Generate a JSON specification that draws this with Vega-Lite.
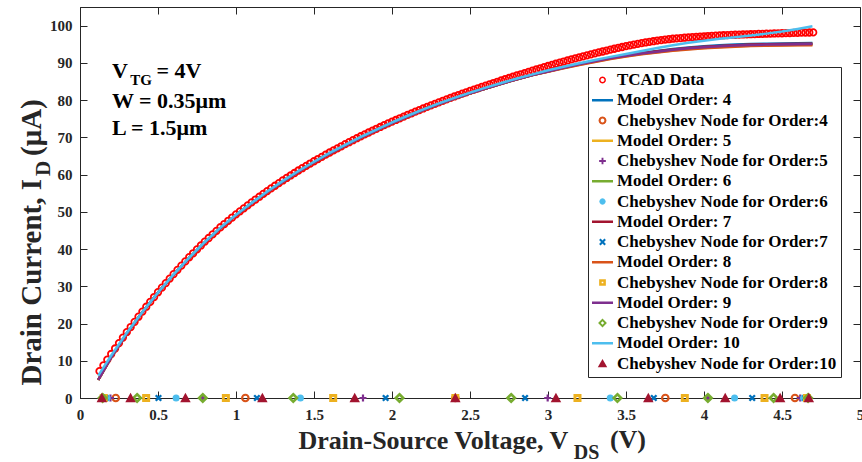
{
 "$schema": "https://vega.github.io/schema/vega-lite/v6.json",
 "width": 780, "height": 391,
 "autosize": {"type": "none"},
 "padding": {"left": 80, "top": 7, "right": 2, "bottom": 64},
 "background": "#FFFFFF",
 "config": {
  "view": {"stroke": "#262626", "strokeWidth": 1},
  "axis": {"labelFont": "Liberation Serif", "labelFontWeight": "bold", "labelFontSize": 15, "labelColor": "#262626", "titleFont": "Liberation Serif", "titleFontWeight": "bold", "titleFontSize": 26, "titleColor": "#262626", "tickColor": "#262626", "domainColor": "#262626", "grid": false, "tickSize": -7, "labelOverlap": false, "labelBound": false, "labelSeparation": 0}
 },
 "params": [
  {"name": "lshape", "expr": "({'TCAD Data': 'M0.33,0L0.286,0.165L0.165,0.286L0,0.33L-0.165,0.286L-0.286,0.165L-0.33,0L-0.286,-0.165L-0.165,-0.286L0,-0.33L0.165,-0.286L0.286,-0.165ZM0.19,0L0.165,-0.095L0.095,-0.165L0,-0.19L-0.095,-0.165L-0.165,-0.095L-0.19,0L-0.165,0.095L-0.095,0.165L0,0.19L0.095,0.165L0.165,0.095Z', 'Chebyshev Node for Order:4': 'M0.38,0L0.329,0.19L0.19,0.329L0,0.38L-0.19,0.329L-0.329,0.19L-0.38,0L-0.329,-0.19L-0.19,-0.329L0,-0.38L0.19,-0.329L0.329,-0.19ZM0.18,0L0.156,-0.09L0.09,-0.156L0,-0.18L-0.09,-0.156L-0.156,-0.09L-0.18,0L-0.156,0.09L-0.09,0.156L0,0.18L0.09,0.156L0.156,0.09Z', 'Chebyshev Node for Order:5': 'M-0.32,-0.09L-0.09,-0.09L-0.09,-0.32L0.09,-0.32L0.09,-0.09L0.32,-0.09L0.32,0.09L0.09,0.09L0.09,0.32L-0.09,0.32L-0.09,0.09L-0.32,0.09Z', 'Chebyshev Node for Order:6': 'M0.3,0L0.26,0.15L0.15,0.26L0,0.3L-0.15,0.26L-0.26,0.15L-0.3,0L-0.26,-0.15L-0.15,-0.26L0,-0.3L0.15,-0.26L0.26,-0.15Z', 'Chebyshev Node for Order:7': 'M-0.184,-0.325L0,-0.141L0.184,-0.325L0.325,-0.184L0.141,0L0.325,0.184L0.184,0.325L0,0.141L-0.184,0.325L-0.325,0.184L-0.141,0L-0.325,-0.184Z', 'Chebyshev Node for Order:8': 'M-0.32,-0.32L0.32,-0.32L0.32,0.32L-0.32,0.32ZM-0.08,-0.08L-0.08,0.08L0.08,0.08L0.08,-0.08Z', 'Chebyshev Node for Order:9': 'M0,-0.42L0.42,0L0,0.42L-0.42,0ZM0,-0.16L-0.16,0L0,0.16L0.16,0Z', 'Chebyshev Node for Order:10': 'M0,-0.42L0.45,0.36L-0.45,0.36Z'})"}
 ],
 "datasets": {
  "tcad": [
   {"x":0.125,"y":7.2},{"x":0.15,"y":8.76},{"x":0.175,"y":10.3},{"x":0.2,"y":11.82},{"x":0.225,"y":13.29},{"x":0.25,"y":14.75},{"x":0.275,"y":16.22},{"x":0.3,"y":17.68},{"x":0.325,"y":19.06},{"x":0.35,"y":20.45},{"x":0.375,"y":21.83},{"x":0.4,"y":23.21},{"x":0.425,"y":24.51},{"x":0.45,"y":25.81},{"x":0.475,"y":27.11},{"x":0.5,"y":28.41},{"x":0.525,"y":29.63},{"x":0.55,"y":30.85},{"x":0.575,"y":32.06},{"x":0.6,"y":33.28},{"x":0.625,"y":34.41},{"x":0.65,"y":35.55},{"x":0.675,"y":36.68},{"x":0.7,"y":37.81},{"x":0.725,"y":38.86},{"x":0.75,"y":39.91},{"x":0.775,"y":40.96},{"x":0.8,"y":42.01},{"x":0.825,"y":42.97},{"x":0.85,"y":43.93},{"x":0.875,"y":44.89},{"x":0.9,"y":45.85},{"x":0.925,"y":46.72},{"x":0.95,"y":47.59},{"x":0.975,"y":48.46},{"x":1.0,"y":49.33},{"x":1.025,"y":50.13},{"x":1.05,"y":50.94},{"x":1.075,"y":51.74},{"x":1.1,"y":52.54},{"x":1.125,"y":53.3},{"x":1.15,"y":54.05},{"x":1.175,"y":54.81},{"x":1.2,"y":55.57},{"x":1.225,"y":56.28},{"x":1.25,"y":57.0},{"x":1.275,"y":57.71},{"x":1.3,"y":58.42},{"x":1.325,"y":59.09},{"x":1.35,"y":59.76},{"x":1.375,"y":60.42},{"x":1.4,"y":61.09},{"x":1.425,"y":61.71},{"x":1.45,"y":62.34},{"x":1.475,"y":62.96},{"x":1.5,"y":63.58},{"x":1.525,"y":64.17},{"x":1.55,"y":64.76},{"x":1.575,"y":65.34},{"x":1.6,"y":65.93},{"x":1.625,"y":66.49},{"x":1.65,"y":67.05},{"x":1.675,"y":67.6},{"x":1.7,"y":68.16},{"x":1.725,"y":68.69},{"x":1.75,"y":69.23},{"x":1.775,"y":69.76},{"x":1.8,"y":70.29},{"x":1.825,"y":70.79},{"x":1.85,"y":71.3},{"x":1.875,"y":71.8},{"x":1.9,"y":72.3},{"x":1.925,"y":72.78},{"x":1.95,"y":73.26},{"x":1.975,"y":73.73},{"x":2.0,"y":74.21},{"x":2.025,"y":74.66},{"x":2.05,"y":75.12},{"x":2.075,"y":75.57},{"x":2.1,"y":76.02},{"x":2.125,"y":76.45},{"x":2.15,"y":76.89},{"x":2.175,"y":77.32},{"x":2.2,"y":77.75},{"x":2.225,"y":78.16},{"x":2.25,"y":78.58},{"x":2.275,"y":78.99},{"x":2.3,"y":79.4},{"x":2.325,"y":79.79},{"x":2.35,"y":80.19},{"x":2.375,"y":80.58},{"x":2.4,"y":80.97},{"x":2.425,"y":81.34},{"x":2.45,"y":81.72},{"x":2.475,"y":82.09},{"x":2.5,"y":82.46},{"x":2.525,"y":82.82},{"x":2.55,"y":83.17},{"x":2.575,"y":83.53},{"x":2.6,"y":83.89},{"x":2.625,"y":84.23},{"x":2.65,"y":84.58},{"x":2.675,"y":84.92},{"x":2.7,"y":85.27},{"x":2.725,"y":85.6},{"x":2.75,"y":85.94},{"x":2.775,"y":86.27},{"x":2.8,"y":86.61},{"x":2.825,"y":86.93},{"x":2.85,"y":87.26},{"x":2.875,"y":87.58},{"x":2.9,"y":87.91},{"x":2.925,"y":88.22},{"x":2.95,"y":88.53},{"x":2.975,"y":88.85},{"x":3.0,"y":89.16},{"x":3.025,"y":89.46},{"x":3.05,"y":89.76},{"x":3.075,"y":90.06},{"x":3.1,"y":90.36},{"x":3.125,"y":90.64},{"x":3.15,"y":90.93},{"x":3.175,"y":91.21},{"x":3.2,"y":91.49},{"x":3.225,"y":91.76},{"x":3.25,"y":92.02},{"x":3.275,"y":92.29},{"x":3.3,"y":92.55},{"x":3.325,"y":92.8},{"x":3.35,"y":93.05},{"x":3.375,"y":93.3},{"x":3.4,"y":93.55},{"x":3.425,"y":93.79},{"x":3.45,"y":94.02},{"x":3.475,"y":94.26},{"x":3.5,"y":94.49},{"x":3.525,"y":94.7},{"x":3.55,"y":94.9},{"x":3.575,"y":95.11},{"x":3.6,"y":95.31},{"x":3.625,"y":95.48},{"x":3.65,"y":95.64},{"x":3.675,"y":95.81},{"x":3.7,"y":95.97},{"x":3.725,"y":96.1},{"x":3.75,"y":96.23},{"x":3.775,"y":96.35},{"x":3.8,"y":96.48},{"x":3.825,"y":96.57},{"x":3.85,"y":96.66},{"x":3.875,"y":96.75},{"x":3.9,"y":96.84},{"x":3.925,"y":96.92},{"x":3.95,"y":96.99},{"x":3.975,"y":97.07},{"x":4.0,"y":97.14},{"x":4.025,"y":97.2},{"x":4.05,"y":97.26},{"x":4.075,"y":97.31},{"x":4.1,"y":97.37},{"x":4.125,"y":97.42},{"x":4.15,"y":97.46},{"x":4.175,"y":97.51},{"x":4.2,"y":97.55},{"x":4.225,"y":97.59},{"x":4.25,"y":97.62},{"x":4.275,"y":97.66},{"x":4.3,"y":97.69},{"x":4.325,"y":97.73},{"x":4.35,"y":97.76},{"x":4.375,"y":97.8},{"x":4.4,"y":97.83},{"x":4.425,"y":97.86},{"x":4.45,"y":97.89},{"x":4.475,"y":97.92},{"x":4.5,"y":97.95},{"x":4.525,"y":97.98},{"x":4.55,"y":98.01},{"x":4.575,"y":98.04},{"x":4.6,"y":98.07},{"x":4.625,"y":98.1},{"x":4.65,"y":98.12},{"x":4.675,"y":98.15},{"x":4.7,"y":98.17}
  ],
  "models": [
   {"series":"Model Order: 4","x":0.117,"y":4.9},{"series":"Model Order: 4","x":0.2,"y":10.9},{"series":"Model Order: 4","x":0.3,"y":17.3},{"series":"Model Order: 4","x":0.4,"y":23.0},{"series":"Model Order: 4","x":0.5,"y":28.3},{"series":"Model Order: 4","x":0.6,"y":33.1},{"series":"Model Order: 4","x":0.7,"y":37.6},{"series":"Model Order: 4","x":0.8,"y":41.8},{"series":"Model Order: 4","x":0.9,"y":45.6},{"series":"Model Order: 4","x":1.0,"y":49.1},{"series":"Model Order: 4","x":1.1,"y":52.3},{"series":"Model Order: 4","x":1.2,"y":55.3},{"series":"Model Order: 4","x":1.3,"y":58.1},{"series":"Model Order: 4","x":1.4,"y":60.8},{"series":"Model Order: 4","x":1.5,"y":63.3},{"series":"Model Order: 4","x":1.6,"y":65.6},{"series":"Model Order: 4","x":1.7,"y":67.8},{"series":"Model Order: 4","x":1.8,"y":69.9},{"series":"Model Order: 4","x":1.9,"y":71.9},{"series":"Model Order: 4","x":2.0,"y":73.8},{"series":"Model Order: 4","x":2.1,"y":75.6},{"series":"Model Order: 4","x":2.2,"y":77.3},{"series":"Model Order: 4","x":2.3,"y":78.9},{"series":"Model Order: 4","x":2.4,"y":80.4},{"series":"Model Order: 4","x":2.5,"y":81.8},{"series":"Model Order: 4","x":2.6,"y":83.1},{"series":"Model Order: 4","x":2.7,"y":84.4},{"series":"Model Order: 4","x":2.8,"y":85.6},{"series":"Model Order: 4","x":2.9,"y":86.7},{"series":"Model Order: 4","x":3.0,"y":87.8},{"series":"Model Order: 4","x":3.1,"y":88.8},{"series":"Model Order: 4","x":3.2,"y":89.7},{"series":"Model Order: 4","x":3.3,"y":90.5},{"series":"Model Order: 4","x":3.4,"y":91.3},{"series":"Model Order: 4","x":3.5,"y":92.05},{"series":"Model Order: 4","x":3.6,"y":92.65},{"series":"Model Order: 4","x":3.7,"y":93.2},{"series":"Model Order: 4","x":3.8,"y":93.7},{"series":"Model Order: 4","x":3.9,"y":94.1},{"series":"Model Order: 4","x":4.0,"y":94.45},{"series":"Model Order: 4","x":4.1,"y":94.7},{"series":"Model Order: 4","x":4.2,"y":94.9},{"series":"Model Order: 4","x":4.3,"y":95.05},{"series":"Model Order: 4","x":4.4,"y":95.15},{"series":"Model Order: 4","x":4.5,"y":95.2},{"series":"Model Order: 4","x":4.6,"y":95.25},{"series":"Model Order: 4","x":4.695,"y":95.3},
   {"series":"Model Order: 5","x":0.117,"y":4.9},{"series":"Model Order: 5","x":0.2,"y":10.9},{"series":"Model Order: 5","x":0.3,"y":17.3},{"series":"Model Order: 5","x":0.4,"y":23.0},{"series":"Model Order: 5","x":0.5,"y":28.3},{"series":"Model Order: 5","x":0.6,"y":33.1},{"series":"Model Order: 5","x":0.7,"y":37.6},{"series":"Model Order: 5","x":0.8,"y":41.8},{"series":"Model Order: 5","x":0.9,"y":45.6},{"series":"Model Order: 5","x":1.0,"y":49.1},{"series":"Model Order: 5","x":1.1,"y":52.3},{"series":"Model Order: 5","x":1.2,"y":55.3},{"series":"Model Order: 5","x":1.3,"y":58.1},{"series":"Model Order: 5","x":1.4,"y":60.8},{"series":"Model Order: 5","x":1.5,"y":63.3},{"series":"Model Order: 5","x":1.6,"y":65.6},{"series":"Model Order: 5","x":1.7,"y":67.8},{"series":"Model Order: 5","x":1.8,"y":69.9},{"series":"Model Order: 5","x":1.9,"y":71.9},{"series":"Model Order: 5","x":2.0,"y":73.8},{"series":"Model Order: 5","x":2.1,"y":75.6},{"series":"Model Order: 5","x":2.2,"y":77.3},{"series":"Model Order: 5","x":2.3,"y":78.9},{"series":"Model Order: 5","x":2.4,"y":80.4},{"series":"Model Order: 5","x":2.5,"y":81.8},{"series":"Model Order: 5","x":2.6,"y":83.1},{"series":"Model Order: 5","x":2.7,"y":84.4},{"series":"Model Order: 5","x":2.8,"y":85.6},{"series":"Model Order: 5","x":2.9,"y":86.7},{"series":"Model Order: 5","x":3.0,"y":87.65},{"series":"Model Order: 5","x":3.1,"y":88.6},{"series":"Model Order: 5","x":3.2,"y":89.5},{"series":"Model Order: 5","x":3.3,"y":90.3},{"series":"Model Order: 5","x":3.4,"y":91.1},{"series":"Model Order: 5","x":3.5,"y":91.8},{"series":"Model Order: 5","x":3.6,"y":92.35},{"series":"Model Order: 5","x":3.7,"y":92.85},{"series":"Model Order: 5","x":3.8,"y":93.3},{"series":"Model Order: 5","x":3.9,"y":93.7},{"series":"Model Order: 5","x":4.0,"y":94.0},{"series":"Model Order: 5","x":4.1,"y":94.25},{"series":"Model Order: 5","x":4.2,"y":94.45},{"series":"Model Order: 5","x":4.3,"y":94.6},{"series":"Model Order: 5","x":4.4,"y":94.7},{"series":"Model Order: 5","x":4.5,"y":94.75},{"series":"Model Order: 5","x":4.6,"y":94.8},{"series":"Model Order: 5","x":4.695,"y":94.85},
   {"series":"Model Order: 6","x":0.117,"y":4.9},{"series":"Model Order: 6","x":0.2,"y":10.9},{"series":"Model Order: 6","x":0.3,"y":17.3},{"series":"Model Order: 6","x":0.4,"y":23.0},{"series":"Model Order: 6","x":0.5,"y":28.3},{"series":"Model Order: 6","x":0.6,"y":33.1},{"series":"Model Order: 6","x":0.7,"y":37.6},{"series":"Model Order: 6","x":0.8,"y":41.8},{"series":"Model Order: 6","x":0.9,"y":45.6},{"series":"Model Order: 6","x":1.0,"y":49.1},{"series":"Model Order: 6","x":1.1,"y":52.3},{"series":"Model Order: 6","x":1.2,"y":55.3},{"series":"Model Order: 6","x":1.3,"y":58.1},{"series":"Model Order: 6","x":1.4,"y":60.8},{"series":"Model Order: 6","x":1.5,"y":63.3},{"series":"Model Order: 6","x":1.6,"y":65.6},{"series":"Model Order: 6","x":1.7,"y":67.8},{"series":"Model Order: 6","x":1.8,"y":69.9},{"series":"Model Order: 6","x":1.9,"y":71.9},{"series":"Model Order: 6","x":2.0,"y":73.8},{"series":"Model Order: 6","x":2.1,"y":75.6},{"series":"Model Order: 6","x":2.2,"y":77.3},{"series":"Model Order: 6","x":2.3,"y":78.9},{"series":"Model Order: 6","x":2.4,"y":80.4},{"series":"Model Order: 6","x":2.5,"y":81.8},{"series":"Model Order: 6","x":2.6,"y":83.1},{"series":"Model Order: 6","x":2.7,"y":84.4},{"series":"Model Order: 6","x":2.8,"y":85.6},{"series":"Model Order: 6","x":2.9,"y":86.7},{"series":"Model Order: 6","x":3.0,"y":87.7},{"series":"Model Order: 6","x":3.1,"y":88.7},{"series":"Model Order: 6","x":3.2,"y":89.6},{"series":"Model Order: 6","x":3.3,"y":90.4},{"series":"Model Order: 6","x":3.4,"y":91.2},{"series":"Model Order: 6","x":3.5,"y":91.9},{"series":"Model Order: 6","x":3.6,"y":92.5},{"series":"Model Order: 6","x":3.7,"y":93.0},{"series":"Model Order: 6","x":3.8,"y":93.5},{"series":"Model Order: 6","x":3.9,"y":93.9},{"series":"Model Order: 6","x":4.0,"y":94.2},{"series":"Model Order: 6","x":4.1,"y":94.45},{"series":"Model Order: 6","x":4.2,"y":94.65},{"series":"Model Order: 6","x":4.3,"y":94.8},{"series":"Model Order: 6","x":4.4,"y":94.9},{"series":"Model Order: 6","x":4.5,"y":94.95},{"series":"Model Order: 6","x":4.6,"y":95.0},{"series":"Model Order: 6","x":4.695,"y":95.05},
   {"series":"Model Order: 7","x":0.117,"y":4.9},{"series":"Model Order: 7","x":0.2,"y":10.9},{"series":"Model Order: 7","x":0.3,"y":17.3},{"series":"Model Order: 7","x":0.4,"y":23.0},{"series":"Model Order: 7","x":0.5,"y":28.3},{"series":"Model Order: 7","x":0.6,"y":33.1},{"series":"Model Order: 7","x":0.7,"y":37.6},{"series":"Model Order: 7","x":0.8,"y":41.8},{"series":"Model Order: 7","x":0.9,"y":45.6},{"series":"Model Order: 7","x":1.0,"y":49.1},{"series":"Model Order: 7","x":1.1,"y":52.3},{"series":"Model Order: 7","x":1.2,"y":55.3},{"series":"Model Order: 7","x":1.3,"y":58.1},{"series":"Model Order: 7","x":1.4,"y":60.8},{"series":"Model Order: 7","x":1.5,"y":63.3},{"series":"Model Order: 7","x":1.6,"y":65.6},{"series":"Model Order: 7","x":1.7,"y":67.8},{"series":"Model Order: 7","x":1.8,"y":69.9},{"series":"Model Order: 7","x":1.9,"y":71.9},{"series":"Model Order: 7","x":2.0,"y":73.8},{"series":"Model Order: 7","x":2.1,"y":75.6},{"series":"Model Order: 7","x":2.2,"y":77.3},{"series":"Model Order: 7","x":2.3,"y":78.9},{"series":"Model Order: 7","x":2.4,"y":80.4},{"series":"Model Order: 7","x":2.5,"y":81.8},{"series":"Model Order: 7","x":2.6,"y":83.1},{"series":"Model Order: 7","x":2.7,"y":84.4},{"series":"Model Order: 7","x":2.8,"y":85.6},{"series":"Model Order: 7","x":2.9,"y":86.7},{"series":"Model Order: 7","x":3.0,"y":87.75},{"series":"Model Order: 7","x":3.1,"y":88.75},{"series":"Model Order: 7","x":3.2,"y":89.65},{"series":"Model Order: 7","x":3.3,"y":90.45},{"series":"Model Order: 7","x":3.4,"y":91.25},{"series":"Model Order: 7","x":3.5,"y":91.95},{"series":"Model Order: 7","x":3.6,"y":92.6},{"series":"Model Order: 7","x":3.7,"y":93.1},{"series":"Model Order: 7","x":3.8,"y":93.6},{"series":"Model Order: 7","x":3.9,"y":94.0},{"series":"Model Order: 7","x":4.0,"y":94.3},{"series":"Model Order: 7","x":4.1,"y":94.55},{"series":"Model Order: 7","x":4.2,"y":94.75},{"series":"Model Order: 7","x":4.3,"y":94.9},{"series":"Model Order: 7","x":4.4,"y":95.0},{"series":"Model Order: 7","x":4.5,"y":95.05},{"series":"Model Order: 7","x":4.6,"y":95.1},{"series":"Model Order: 7","x":4.695,"y":95.15},
   {"series":"Model Order: 8","x":0.117,"y":4.9},{"series":"Model Order: 8","x":0.2,"y":10.9},{"series":"Model Order: 8","x":0.3,"y":17.3},{"series":"Model Order: 8","x":0.4,"y":23.0},{"series":"Model Order: 8","x":0.5,"y":28.3},{"series":"Model Order: 8","x":0.6,"y":33.1},{"series":"Model Order: 8","x":0.7,"y":37.6},{"series":"Model Order: 8","x":0.8,"y":41.8},{"series":"Model Order: 8","x":0.9,"y":45.6},{"series":"Model Order: 8","x":1.0,"y":49.1},{"series":"Model Order: 8","x":1.1,"y":52.3},{"series":"Model Order: 8","x":1.2,"y":55.3},{"series":"Model Order: 8","x":1.3,"y":58.1},{"series":"Model Order: 8","x":1.4,"y":60.8},{"series":"Model Order: 8","x":1.5,"y":63.3},{"series":"Model Order: 8","x":1.6,"y":65.6},{"series":"Model Order: 8","x":1.7,"y":67.8},{"series":"Model Order: 8","x":1.8,"y":69.9},{"series":"Model Order: 8","x":1.9,"y":71.9},{"series":"Model Order: 8","x":2.0,"y":73.8},{"series":"Model Order: 8","x":2.1,"y":75.6},{"series":"Model Order: 8","x":2.2,"y":77.3},{"series":"Model Order: 8","x":2.3,"y":78.9},{"series":"Model Order: 8","x":2.4,"y":80.4},{"series":"Model Order: 8","x":2.5,"y":81.8},{"series":"Model Order: 8","x":2.6,"y":83.1},{"series":"Model Order: 8","x":2.7,"y":84.4},{"series":"Model Order: 8","x":2.8,"y":85.6},{"series":"Model Order: 8","x":2.9,"y":86.7},{"series":"Model Order: 8","x":3.0,"y":87.6},{"series":"Model Order: 8","x":3.1,"y":88.55},{"series":"Model Order: 8","x":3.2,"y":89.45},{"series":"Model Order: 8","x":3.3,"y":90.25},{"series":"Model Order: 8","x":3.4,"y":91.0},{"series":"Model Order: 8","x":3.5,"y":91.7},{"series":"Model Order: 8","x":3.6,"y":92.3},{"series":"Model Order: 8","x":3.7,"y":92.75},{"series":"Model Order: 8","x":3.8,"y":93.25},{"series":"Model Order: 8","x":3.9,"y":93.6},{"series":"Model Order: 8","x":4.0,"y":93.9},{"series":"Model Order: 8","x":4.1,"y":94.15},{"series":"Model Order: 8","x":4.2,"y":94.35},{"series":"Model Order: 8","x":4.3,"y":94.5},{"series":"Model Order: 8","x":4.4,"y":94.6},{"series":"Model Order: 8","x":4.5,"y":94.65},{"series":"Model Order: 8","x":4.6,"y":94.7},{"series":"Model Order: 8","x":4.695,"y":94.75},
   {"series":"Model Order: 9","x":0.117,"y":4.9},{"series":"Model Order: 9","x":0.2,"y":10.9},{"series":"Model Order: 9","x":0.3,"y":17.3},{"series":"Model Order: 9","x":0.4,"y":23.0},{"series":"Model Order: 9","x":0.5,"y":28.3},{"series":"Model Order: 9","x":0.6,"y":33.1},{"series":"Model Order: 9","x":0.7,"y":37.6},{"series":"Model Order: 9","x":0.8,"y":41.8},{"series":"Model Order: 9","x":0.9,"y":45.6},{"series":"Model Order: 9","x":1.0,"y":49.1},{"series":"Model Order: 9","x":1.1,"y":52.3},{"series":"Model Order: 9","x":1.2,"y":55.3},{"series":"Model Order: 9","x":1.3,"y":58.1},{"series":"Model Order: 9","x":1.4,"y":60.8},{"series":"Model Order: 9","x":1.5,"y":63.3},{"series":"Model Order: 9","x":1.6,"y":65.6},{"series":"Model Order: 9","x":1.7,"y":67.8},{"series":"Model Order: 9","x":1.8,"y":69.9},{"series":"Model Order: 9","x":1.9,"y":71.9},{"series":"Model Order: 9","x":2.0,"y":73.8},{"series":"Model Order: 9","x":2.1,"y":75.6},{"series":"Model Order: 9","x":2.2,"y":77.3},{"series":"Model Order: 9","x":2.3,"y":78.9},{"series":"Model Order: 9","x":2.4,"y":80.4},{"series":"Model Order: 9","x":2.5,"y":81.8},{"series":"Model Order: 9","x":2.6,"y":83.1},{"series":"Model Order: 9","x":2.7,"y":84.4},{"series":"Model Order: 9","x":2.8,"y":85.6},{"series":"Model Order: 9","x":2.9,"y":86.7},{"series":"Model Order: 9","x":3.0,"y":87.7},{"series":"Model Order: 9","x":3.1,"y":88.7},{"series":"Model Order: 9","x":3.2,"y":89.6},{"series":"Model Order: 9","x":3.3,"y":90.4},{"series":"Model Order: 9","x":3.4,"y":91.2},{"series":"Model Order: 9","x":3.5,"y":91.9},{"series":"Model Order: 9","x":3.6,"y":92.5},{"series":"Model Order: 9","x":3.7,"y":93.0},{"series":"Model Order: 9","x":3.8,"y":93.5},{"series":"Model Order: 9","x":3.9,"y":93.9},{"series":"Model Order: 9","x":4.0,"y":94.2},{"series":"Model Order: 9","x":4.1,"y":94.45},{"series":"Model Order: 9","x":4.2,"y":94.65},{"series":"Model Order: 9","x":4.3,"y":94.8},{"series":"Model Order: 9","x":4.4,"y":94.9},{"series":"Model Order: 9","x":4.5,"y":94.95},{"series":"Model Order: 9","x":4.6,"y":95.0},{"series":"Model Order: 9","x":4.695,"y":95.05},
   {"series":"Model Order: 10","x":0.117,"y":6.0},{"series":"Model Order: 10","x":0.2,"y":11.4},{"series":"Model Order: 10","x":0.3,"y":17.5},{"series":"Model Order: 10","x":0.4,"y":23.1},{"series":"Model Order: 10","x":0.5,"y":28.35},{"series":"Model Order: 10","x":0.6,"y":33.2},{"series":"Model Order: 10","x":0.7,"y":37.7},{"series":"Model Order: 10","x":0.8,"y":41.9},{"series":"Model Order: 10","x":0.9,"y":45.75},{"series":"Model Order: 10","x":1.0,"y":49.2},{"series":"Model Order: 10","x":1.1,"y":52.4},{"series":"Model Order: 10","x":1.2,"y":55.45},{"series":"Model Order: 10","x":1.3,"y":58.3},{"series":"Model Order: 10","x":1.4,"y":60.95},{"series":"Model Order: 10","x":1.5,"y":63.45},{"series":"Model Order: 10","x":1.6,"y":65.8},{"series":"Model Order: 10","x":1.7,"y":68.0},{"series":"Model Order: 10","x":1.8,"y":70.1},{"series":"Model Order: 10","x":1.9,"y":72.1},{"series":"Model Order: 10","x":2.0,"y":74.0},{"series":"Model Order: 10","x":2.1,"y":75.8},{"series":"Model Order: 10","x":2.2,"y":77.5},{"series":"Model Order: 10","x":2.3,"y":79.1},{"series":"Model Order: 10","x":2.4,"y":80.6},{"series":"Model Order: 10","x":2.5,"y":82.0},{"series":"Model Order: 10","x":2.6,"y":83.35},{"series":"Model Order: 10","x":2.7,"y":84.6},{"series":"Model Order: 10","x":2.8,"y":85.8},{"series":"Model Order: 10","x":2.9,"y":86.9},{"series":"Model Order: 10","x":3.0,"y":88.0},{"series":"Model Order: 10","x":3.1,"y":88.95},{"series":"Model Order: 10","x":3.2,"y":89.9},{"series":"Model Order: 10","x":3.3,"y":90.75},{"series":"Model Order: 10","x":3.4,"y":91.6},{"series":"Model Order: 10","x":3.5,"y":92.4},{"series":"Model Order: 10","x":3.6,"y":93.2},{"series":"Model Order: 10","x":3.7,"y":94.0},{"series":"Model Order: 10","x":3.8,"y":94.75},{"series":"Model Order: 10","x":3.9,"y":95.4},{"series":"Model Order: 10","x":4.0,"y":95.95},{"series":"Model Order: 10","x":4.1,"y":96.45},{"series":"Model Order: 10","x":4.2,"y":96.9},{"series":"Model Order: 10","x":4.3,"y":97.35},{"series":"Model Order: 10","x":4.4,"y":97.85},{"series":"Model Order: 10","x":4.5,"y":98.4},{"series":"Model Order: 10","x":4.6,"y":99.1},{"series":"Model Order: 10","x":4.695,"y":99.85}
  ],
  "nodes": [
   {"series":"Chebyshev Node for Order:4","x":0.229,"y":0},{"series":"Chebyshev Node for Order:4","x":1.06,"y":0},{"series":"Chebyshev Node for Order:4","x":2.406,"y":0},{"series":"Chebyshev Node for Order:4","x":3.752,"y":0},{"series":"Chebyshev Node for Order:4","x":4.583,"y":0},
   {"series":"Chebyshev Node for Order:5","x":0.195,"y":0},{"series":"Chebyshev Node for Order:5","x":0.787,"y":0},{"series":"Chebyshev Node for Order:5","x":1.814,"y":0},{"series":"Chebyshev Node for Order:5","x":2.998,"y":0},{"series":"Chebyshev Node for Order:5","x":4.025,"y":0},{"series":"Chebyshev Node for Order:5","x":4.617,"y":0},
   {"series":"Chebyshev Node for Order:6","x":0.174,"y":0},{"series":"Chebyshev Node for Order:6","x":0.616,"y":0},{"series":"Chebyshev Node for Order:6","x":1.413,"y":0},{"series":"Chebyshev Node for Order:6","x":2.406,"y":0},{"series":"Chebyshev Node for Order:6","x":3.399,"y":0},{"series":"Chebyshev Node for Order:6","x":4.196,"y":0},{"series":"Chebyshev Node for Order:6","x":4.638,"y":0},
   {"series":"Chebyshev Node for Order:7","x":0.161,"y":0},{"series":"Chebyshev Node for Order:7","x":0.503,"y":0},{"series":"Chebyshev Node for Order:7","x":1.134,"y":0},{"series":"Chebyshev Node for Order:7","x":1.959,"y":0},{"series":"Chebyshev Node for Order:7","x":2.853,"y":0},{"series":"Chebyshev Node for Order:7","x":3.678,"y":0},{"series":"Chebyshev Node for Order:7","x":4.309,"y":0},{"series":"Chebyshev Node for Order:7","x":4.651,"y":0},
   {"series":"Chebyshev Node for Order:8","x":0.152,"y":0},{"series":"Chebyshev Node for Order:8","x":0.424,"y":0},{"series":"Chebyshev Node for Order:8","x":0.935,"y":0},{"series":"Chebyshev Node for Order:8","x":1.623,"y":0},{"series":"Chebyshev Node for Order:8","x":2.406,"y":0},{"series":"Chebyshev Node for Order:8","x":3.189,"y":0},{"series":"Chebyshev Node for Order:8","x":3.877,"y":0},{"series":"Chebyshev Node for Order:8","x":4.388,"y":0},{"series":"Chebyshev Node for Order:8","x":4.66,"y":0},
   {"series":"Chebyshev Node for Order:9","x":0.145,"y":0},{"series":"Chebyshev Node for Order:9","x":0.366,"y":0},{"series":"Chebyshev Node for Order:9","x":0.787,"y":0},{"series":"Chebyshev Node for Order:9","x":1.367,"y":0},{"series":"Chebyshev Node for Order:9","x":2.048,"y":0},{"series":"Chebyshev Node for Order:9","x":2.764,"y":0},{"series":"Chebyshev Node for Order:9","x":3.445,"y":0},{"series":"Chebyshev Node for Order:9","x":4.025,"y":0},{"series":"Chebyshev Node for Order:9","x":4.446,"y":0},{"series":"Chebyshev Node for Order:9","x":4.667,"y":0},
   {"series":"Chebyshev Node for Order:10","x":0.14,"y":0},{"series":"Chebyshev Node for Order:10","x":0.324,"y":0},{"series":"Chebyshev Node for Order:10","x":0.676,"y":0},{"series":"Chebyshev Node for Order:10","x":1.169,"y":0},{"series":"Chebyshev Node for Order:10","x":1.761,"y":0},{"series":"Chebyshev Node for Order:10","x":2.406,"y":0},{"series":"Chebyshev Node for Order:10","x":3.051,"y":0},{"series":"Chebyshev Node for Order:10","x":3.643,"y":0},{"series":"Chebyshev Node for Order:10","x":4.136,"y":0},{"series":"Chebyshev Node for Order:10","x":4.488,"y":0},{"series":"Chebyshev Node for Order:10","x":4.672,"y":0}
  ]
 },
 "layer": [
  {
   "layer": [
    {
     "data": {"name": "tcad"},
     "mark": {"type": "point", "shape": "circle", "filled": false, "size": 42, "strokeWidth": 1.8, "opacity": 1},
     "encoding": {
      "x": {"field": "x", "type": "quantitative", "scale": {"domain": [0, 5], "nice": false, "zero": false},
       "axis": {"values": [0, 0.5, 1, 1.5, 2, 2.5, 3, 3.5, 4, 4.5, 5], "tickCount": 11, "labelExpr": "'' + datum.value", "tickSize": -7, "labelPadding": 16, "labelFlush": false, "labelOverlap": false, "grid": false,
        "title": "Drain-Source Voltage, V", "titleX": 218, "titleY": 50, "titleAlign": "left", "titleAnchor": "start", "titleBaseline": "alphabetic"}},
      "y": {"field": "y", "type": "quantitative", "scale": {"domain": [0, 105], "nice": false, "zero": false},
       "axis": {"values": [0, 10, 20, 30, 40, 50, 60, 70, 80, 90, 100], "tickCount": 11, "labelExpr": "'' + datum.value", "tickSize": -7, "labelPadding": 15, "grid": false, "labelOverlap": false, "labelFlush": false,
        "title": "Drain Current, I", "titleFontSize": 29, "titleAngle": 270, "titleX": -39.5, "titleY": 378, "titleAlign": "left", "titleAnchor": "start", "titleBaseline": "alphabetic"}},
      "color": {"datum": "TCAD Data", "type": "nominal",
       "scale": {"domain": ["TCAD Data","Model Order: 4","Chebyshev Node for Order:4","Model Order: 5","Chebyshev Node for Order:5","Model Order: 6","Chebyshev Node for Order:6","Model Order: 7","Chebyshev Node for Order:7","Model Order: 8","Chebyshev Node for Order:8","Model Order: 9","Chebyshev Node for Order:9","Model Order: 10","Chebyshev Node for Order:10"],
        "range": ["#FF0000","#0072BD","#D95319","#EDB120","#7E2F8E","#77AC30","#4DBEEE","#A2142F","#0072BD","#D95319","#EDB120","#7E2F8E","#77AC30","#4DBEEE","#A2142F"]}}
     }
    },
    {
     "data": {"name": "models"},
     "mark": {"type": "line", "strokeWidth": 2.5},
     "encoding": {
      "x": {"field": "x", "type": "quantitative"},
      "y": {"field": "y", "type": "quantitative"},
      "color": {"field": "series", "type": "nominal",
       "scale": {"domain": ["TCAD Data","Model Order: 4","Chebyshev Node for Order:4","Model Order: 5","Chebyshev Node for Order:5","Model Order: 6","Chebyshev Node for Order:6","Model Order: 7","Chebyshev Node for Order:7","Model Order: 8","Chebyshev Node for Order:8","Model Order: 9","Chebyshev Node for Order:9","Model Order: 10","Chebyshev Node for Order:10"],
        "range": ["#FF0000","#0072BD","#D95319","#EDB120","#7E2F8E","#77AC30","#4DBEEE","#A2142F","#0072BD","#D95319","#EDB120","#7E2F8E","#77AC30","#4DBEEE","#A2142F"]},
       "legend": {"title": null, "orient": "none", "legendX": 508, "legendY": 60, "padding": 4, "strokeColor": "#262626", "fillColor": "#FFFFFF",
        "labelFont": "Liberation Serif", "labelFontWeight": "bold", "labelFontSize": 17, "labelColor": "#000000", "labelLimit": 400, "labelOffset": 4,
        "symbolSize": 441, "symbolStrokeWidth": 0, "symbolOffset": 0, "clipHeight": 18, "rowPadding": 2.25,
        "encode": {"symbols": {"update": {
         "shape": {"signal": "indexof(datum.value, 'Model') == 0 ? 'M-1,-0.12L1,-0.12L1,0.12L-1,0.12Z' : lshape[datum.value]"},
         "size": {"value": 441},
         "strokeWidth": {"value": 0},
         "opacity": {"value": 1},
         "stroke": {"value": "transparent"},
         "fill": {"signal": "scale('color', datum.value)"}
        }}}}
      }
     }
    },
    {
     "data": {"name": "nodes"}, "transform": [{"filter": "datum.series == 'Chebyshev Node for Order:4'"}],
     "mark": {"type": "point", "shape": "circle", "filled": false, "size": 42, "strokeWidth": 2.2, "opacity": 1},
     "encoding": {"x": {"field": "x", "type": "quantitative"}, "y": {"field": "y", "type": "quantitative"},
      "color": {"field": "series", "type": "nominal", "scale": {"domain": ["TCAD Data","Model Order: 4","Chebyshev Node for Order:4","Model Order: 5","Chebyshev Node for Order:5","Model Order: 6","Chebyshev Node for Order:6","Model Order: 7","Chebyshev Node for Order:7","Model Order: 8","Chebyshev Node for Order:8","Model Order: 9","Chebyshev Node for Order:9","Model Order: 10","Chebyshev Node for Order:10"], "range": ["#FF0000","#0072BD","#D95319","#EDB120","#7E2F8E","#77AC30","#4DBEEE","#A2142F","#0072BD","#D95319","#EDB120","#7E2F8E","#77AC30","#4DBEEE","#A2142F"]}}}
    },
    {
     "data": {"name": "nodes"}, "transform": [{"filter": "datum.series == 'Chebyshev Node for Order:5'"}],
     "mark": {"type": "point", "shape": "M-1,0L1,0M0,-1L0,1", "filled": false, "size": 49, "strokeWidth": 2.2, "opacity": 1},
     "encoding": {"x": {"field": "x", "type": "quantitative"}, "y": {"field": "y", "type": "quantitative"},
      "color": {"field": "series", "type": "nominal", "scale": {"domain": ["TCAD Data","Model Order: 4","Chebyshev Node for Order:4","Model Order: 5","Chebyshev Node for Order:5","Model Order: 6","Chebyshev Node for Order:6","Model Order: 7","Chebyshev Node for Order:7","Model Order: 8","Chebyshev Node for Order:8","Model Order: 9","Chebyshev Node for Order:9","Model Order: 10","Chebyshev Node for Order:10"], "range": ["#FF0000","#0072BD","#D95319","#EDB120","#7E2F8E","#77AC30","#4DBEEE","#A2142F","#0072BD","#D95319","#EDB120","#7E2F8E","#77AC30","#4DBEEE","#A2142F"]}}}
    },
    {
     "data": {"name": "nodes"}, "transform": [{"filter": "datum.series == 'Chebyshev Node for Order:6'"}],
     "mark": {"type": "point", "shape": "circle", "filled": true, "size": 49, "opacity": 1},
     "encoding": {"x": {"field": "x", "type": "quantitative"}, "y": {"field": "y", "type": "quantitative"},
      "color": {"field": "series", "type": "nominal", "scale": {"domain": ["TCAD Data","Model Order: 4","Chebyshev Node for Order:4","Model Order: 5","Chebyshev Node for Order:5","Model Order: 6","Chebyshev Node for Order:6","Model Order: 7","Chebyshev Node for Order:7","Model Order: 8","Chebyshev Node for Order:8","Model Order: 9","Chebyshev Node for Order:9","Model Order: 10","Chebyshev Node for Order:10"], "range": ["#FF0000","#0072BD","#D95319","#EDB120","#7E2F8E","#77AC30","#4DBEEE","#A2142F","#0072BD","#D95319","#EDB120","#7E2F8E","#77AC30","#4DBEEE","#A2142F"]}}}
    },
    {
     "data": {"name": "nodes"}, "transform": [{"filter": "datum.series == 'Chebyshev Node for Order:7'"}],
     "mark": {"type": "point", "shape": "M-1,-1L1,1M-1,1L1,-1", "filled": false, "size": 30, "strokeWidth": 2.4, "opacity": 1},
     "encoding": {"x": {"field": "x", "type": "quantitative"}, "y": {"field": "y", "type": "quantitative"},
      "color": {"field": "series", "type": "nominal", "scale": {"domain": ["TCAD Data","Model Order: 4","Chebyshev Node for Order:4","Model Order: 5","Chebyshev Node for Order:5","Model Order: 6","Chebyshev Node for Order:6","Model Order: 7","Chebyshev Node for Order:7","Model Order: 8","Chebyshev Node for Order:8","Model Order: 9","Chebyshev Node for Order:9","Model Order: 10","Chebyshev Node for Order:10"], "range": ["#FF0000","#0072BD","#D95319","#EDB120","#7E2F8E","#77AC30","#4DBEEE","#A2142F","#0072BD","#D95319","#EDB120","#7E2F8E","#77AC30","#4DBEEE","#A2142F"]}}}
    },
    {
     "data": {"name": "nodes"}, "transform": [{"filter": "datum.series == 'Chebyshev Node for Order:8'"}],
     "mark": {"type": "point", "shape": "M-1,-1L1,-1L1,1L-1,1ZM-0.28,-0.28L-0.28,0.28L0.28,0.28L0.28,-0.28Z", "filled": true, "size": 64, "opacity": 1},
     "encoding": {"x": {"field": "x", "type": "quantitative"}, "y": {"field": "y", "type": "quantitative"},
      "color": {"field": "series", "type": "nominal", "scale": {"domain": ["TCAD Data","Model Order: 4","Chebyshev Node for Order:4","Model Order: 5","Chebyshev Node for Order:5","Model Order: 6","Chebyshev Node for Order:6","Model Order: 7","Chebyshev Node for Order:7","Model Order: 8","Chebyshev Node for Order:8","Model Order: 9","Chebyshev Node for Order:9","Model Order: 10","Chebyshev Node for Order:10"], "range": ["#FF0000","#0072BD","#D95319","#EDB120","#7E2F8E","#77AC30","#4DBEEE","#A2142F","#0072BD","#D95319","#EDB120","#7E2F8E","#77AC30","#4DBEEE","#A2142F"]}}}
    },
    {
     "data": {"name": "nodes"}, "transform": [{"filter": "datum.series == 'Chebyshev Node for Order:9'"}],
     "mark": {"type": "point", "shape": "M0,-1L1,0L0,1L-1,0Z", "filled": false, "size": 56, "strokeWidth": 2.6, "opacity": 1},
     "encoding": {"x": {"field": "x", "type": "quantitative"}, "y": {"field": "y", "type": "quantitative"},
      "color": {"field": "series", "type": "nominal", "scale": {"domain": ["TCAD Data","Model Order: 4","Chebyshev Node for Order:4","Model Order: 5","Chebyshev Node for Order:5","Model Order: 6","Chebyshev Node for Order:6","Model Order: 7","Chebyshev Node for Order:7","Model Order: 8","Chebyshev Node for Order:8","Model Order: 9","Chebyshev Node for Order:9","Model Order: 10","Chebyshev Node for Order:10"], "range": ["#FF0000","#0072BD","#D95319","#EDB120","#7E2F8E","#77AC30","#4DBEEE","#A2142F","#0072BD","#D95319","#EDB120","#7E2F8E","#77AC30","#4DBEEE","#A2142F"]}}}
    },
    {
     "data": {"name": "nodes"}, "transform": [{"filter": "datum.series == 'Chebyshev Node for Order:10'"}],
     "mark": {"type": "point", "shape": "M0,-1L1,0.8L-1,0.8Z", "filled": true, "size": 110, "opacity": 1},
     "encoding": {"x": {"field": "x", "type": "quantitative"}, "y": {"field": "y", "type": "quantitative"},
      "color": {"field": "series", "type": "nominal", "scale": {"domain": ["TCAD Data","Model Order: 4","Chebyshev Node for Order:4","Model Order: 5","Chebyshev Node for Order:5","Model Order: 6","Chebyshev Node for Order:6","Model Order: 7","Chebyshev Node for Order:7","Model Order: 8","Chebyshev Node for Order:8","Model Order: 9","Chebyshev Node for Order:9","Model Order: 10","Chebyshev Node for Order:10"], "range": ["#FF0000","#0072BD","#D95319","#EDB120","#7E2F8E","#77AC30","#4DBEEE","#A2142F","#0072BD","#D95319","#EDB120","#7E2F8E","#77AC30","#4DBEEE","#A2142F"]}}}
    },
    {
     "data": {"values": [{"x": 0.205, "y": 85.9, "t": "V"}, {"x": 0.49, "y": 85.9, "t": "= 4V"}, {"x": 0.205, "y": 78.0, "t": "W = 0.35\u03bcm"}, {"x": 0.205, "y": 70.5, "t": "L = 1.5\u03bcm"}]},
     "mark": {"type": "text", "font": "Liberation Serif", "fontWeight": "bold", "fontSize": 22, "align": "left", "baseline": "alphabetic", "color": "#000000"},
     "encoding": {"x": {"field": "x", "type": "quantitative"}, "y": {"field": "y", "type": "quantitative"}, "text": {"field": "t"}}
    },
    {
     "data": {"values": [{"x": 0.322, "y": 84.0, "t": "TG"}]},
     "mark": {"type": "text", "font": "Liberation Serif", "fontWeight": "bold", "fontSize": 15, "align": "left", "baseline": "alphabetic", "color": "#000000"},
     "encoding": {"x": {"field": "x", "type": "quantitative"}, "y": {"field": "y", "type": "quantitative"}, "text": {"field": "t"}}
    },
    {
     "data": {"values": [{"x": 3.165, "y": -16.4, "t": "DS"}]},
     "mark": {"type": "text", "font": "Liberation Serif", "fontWeight": "bold", "fontSize": 20, "align": "left", "baseline": "alphabetic", "color": "#262626"},
     "encoding": {"x": {"field": "x", "type": "quantitative"}, "y": {"field": "y", "type": "quantitative"}, "text": {"field": "t"}}
    },
    {
     "data": {"values": [{"x": 3.397, "y": -13.43, "t": "(V)"}]},
     "mark": {"type": "text", "font": "Liberation Serif", "fontWeight": "bold", "fontSize": 26, "align": "left", "baseline": "alphabetic", "color": "#262626"},
     "encoding": {"x": {"field": "x", "type": "quantitative"}, "y": {"field": "y", "type": "quantitative"}, "text": {"field": "t"}}
    },
    {
     "data": {"values": [{"x": -0.192, "y": 59.6, "t": "D"}]},
     "mark": {"type": "text", "font": "Liberation Serif", "fontWeight": "bold", "fontSize": 21, "align": "left", "baseline": "alphabetic", "angle": 270, "color": "#262626"},
     "encoding": {"x": {"field": "x", "type": "quantitative"}, "y": {"field": "y", "type": "quantitative"}, "text": {"field": "t"}}
    },
    {
     "data": {"values": [{"x": -0.253, "y": 65.0, "t": "(\u03bcA)"}]},
     "mark": {"type": "text", "font": "Liberation Serif", "fontWeight": "bold", "fontSize": 29, "align": "left", "baseline": "alphabetic", "angle": 270, "color": "#262626"},
     "encoding": {"x": {"field": "x", "type": "quantitative"}, "y": {"field": "y", "type": "quantitative"}, "text": {"field": "t"}}
    }
   ]
  },
  {
   "data": {"name": "tcad"},
   "mark": {"type": "point", "opacity": 0},
   "encoding": {
    "x": {"field": "x", "type": "quantitative", "scale": {"domain": [0, 5], "nice": false, "zero": false},
     "axis": {"orient": "top", "values": [0, 0.5, 1, 1.5, 2, 2.5, 3, 3.5, 4, 4.5, 5], "tickCount": 11, "labels": false, "title": null, "tickSize": -7, "domain": false, "grid": false}},
    "y": {"field": "y", "type": "quantitative", "scale": {"domain": [0, 105], "nice": false, "zero": false},
     "axis": {"orient": "right", "values": [0, 10, 20, 30, 40, 50, 60, 70, 80, 90, 100], "tickCount": 11, "labels": false, "title": null, "tickSize": -7, "domain": false, "grid": false}}
   }
  }
 ],
 "resolve": {"axis": {"x": "independent", "y": "independent"}}
}
